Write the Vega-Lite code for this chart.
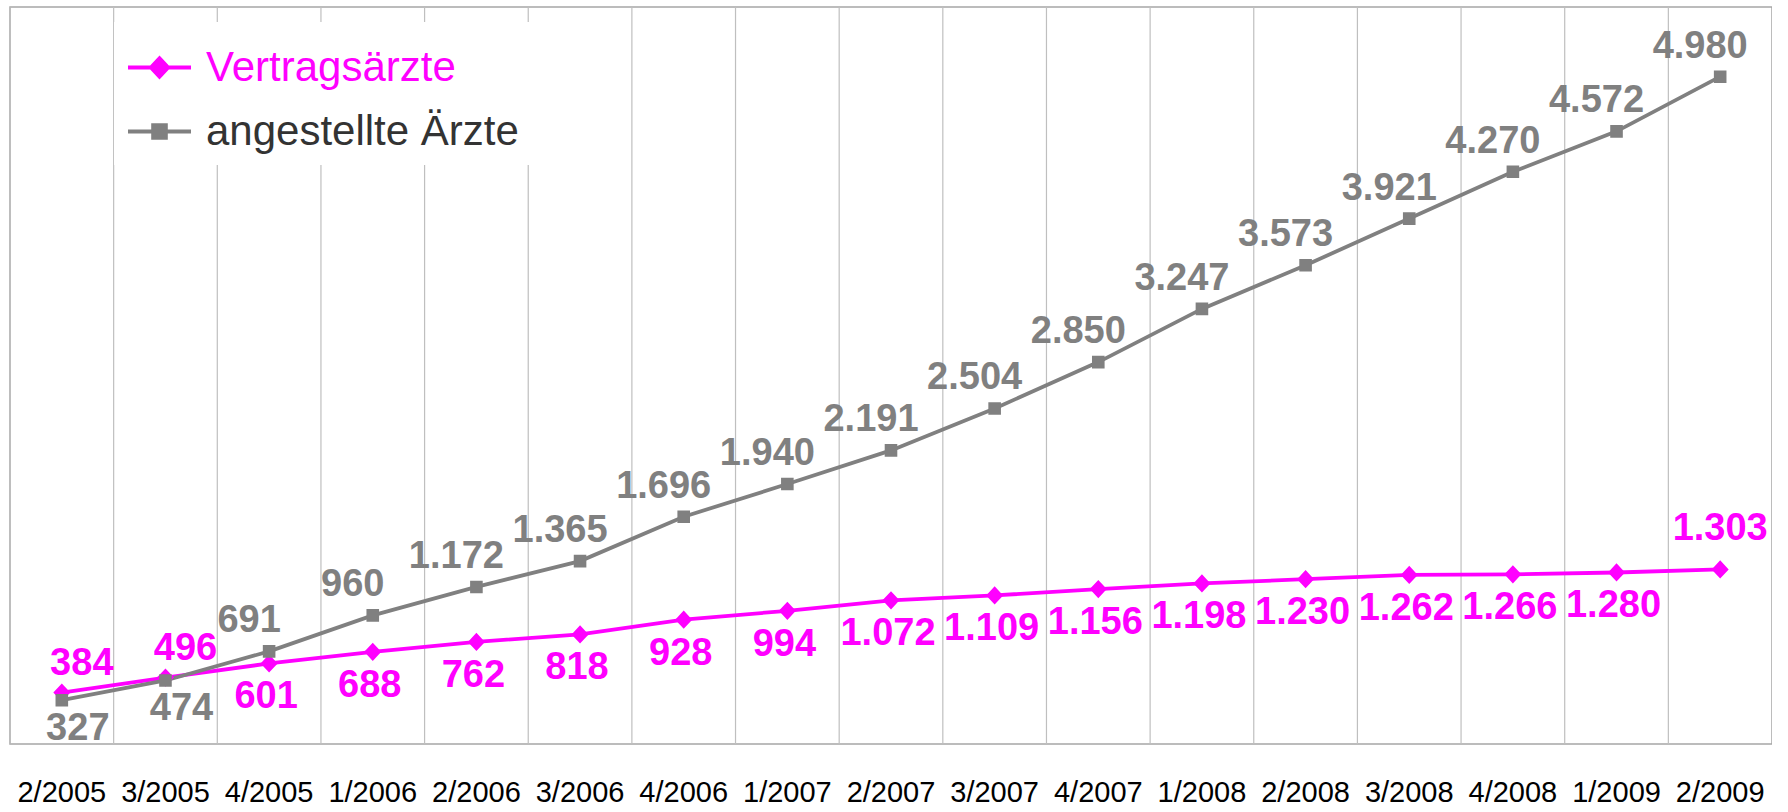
{
  "$schema": "https://vega.github.io/schema/vega-lite/v6.json",
  "width": 1762,
  "height": 737,
  "padding": {"left": 9, "top": 6, "right": 0, "bottom": 0},
  "background": "white",
  "config": {
    "view": {"stroke": "#A6A6A6", "strokeWidth": 1.5},
    "locale": {"number": {"decimal": ",", "thousands": ".", "grouping": [3], "currency": ["", " €"]}}
  },
  "data": {
    "values": [
      {"q": "2/2005", "series": "Vertragsärzte", "value": 384},
      {"q": "3/2005", "series": "Vertragsärzte", "value": 496},
      {"q": "4/2005", "series": "Vertragsärzte", "value": 601},
      {"q": "1/2006", "series": "Vertragsärzte", "value": 688},
      {"q": "2/2006", "series": "Vertragsärzte", "value": 762},
      {"q": "3/2006", "series": "Vertragsärzte", "value": 818},
      {"q": "4/2006", "series": "Vertragsärzte", "value": 928},
      {"q": "1/2007", "series": "Vertragsärzte", "value": 994},
      {"q": "2/2007", "series": "Vertragsärzte", "value": 1072},
      {"q": "3/2007", "series": "Vertragsärzte", "value": 1109},
      {"q": "4/2007", "series": "Vertragsärzte", "value": 1156},
      {"q": "1/2008", "series": "Vertragsärzte", "value": 1198},
      {"q": "2/2008", "series": "Vertragsärzte", "value": 1230},
      {"q": "3/2008", "series": "Vertragsärzte", "value": 1262},
      {"q": "4/2008", "series": "Vertragsärzte", "value": 1266},
      {"q": "1/2009", "series": "Vertragsärzte", "value": 1280},
      {"q": "2/2009", "series": "Vertragsärzte", "value": 1303},
      {"q": "2/2005", "series": "angestellte Ärzte", "value": 327},
      {"q": "3/2005", "series": "angestellte Ärzte", "value": 474},
      {"q": "4/2005", "series": "angestellte Ärzte", "value": 691},
      {"q": "1/2006", "series": "angestellte Ärzte", "value": 960},
      {"q": "2/2006", "series": "angestellte Ärzte", "value": 1172},
      {"q": "3/2006", "series": "angestellte Ärzte", "value": 1365},
      {"q": "4/2006", "series": "angestellte Ärzte", "value": 1696},
      {"q": "1/2007", "series": "angestellte Ärzte", "value": 1940},
      {"q": "2/2007", "series": "angestellte Ärzte", "value": 2191},
      {"q": "3/2007", "series": "angestellte Ärzte", "value": 2504},
      {"q": "4/2007", "series": "angestellte Ärzte", "value": 2850},
      {"q": "1/2008", "series": "angestellte Ärzte", "value": 3247},
      {"q": "2/2008", "series": "angestellte Ärzte", "value": 3573},
      {"q": "3/2008", "series": "angestellte Ärzte", "value": 3921},
      {"q": "4/2008", "series": "angestellte Ärzte", "value": 4270},
      {"q": "1/2009", "series": "angestellte Ärzte", "value": 4572},
      {"q": "2/2009", "series": "angestellte Ärzte", "value": 4980}
    ]
  },
  "encoding": {
    "x": {
      "field": "q", "type": "ordinal", "sort": null, "title": null,
      "scale": {"type": "band", "paddingInner": 0, "paddingOuter": 0},
      "axis": {"labelAngle": 0, "ticks": false, "domain": false, "grid": false,
               "labelFont": "Liberation Sans, Arial, sans-serif",
               "labelFontSize": 29, "labelColor": "#000000", "labelPadding": 34}
    },
    "y": {"field": "value", "type": "quantitative", "scale": {"domain": [0, 5500], "nice": false}, "axis": null}
  },
  "layer": [
    {
      "transform": [{"filter": {"field": "series", "equal": "Vertragsärzte"}}],
      "mark": {"type": "rule", "color": "#BFBFBF", "strokeWidth": 1.2},
      "encoding": {
        "x": {"field": "q", "type": "ordinal", "sort": null, "bandPosition": 0,
              "scale": {"type": "band", "paddingInner": 0, "paddingOuter": 0}},
        "y": null
      }
    },
    {
      "mark": {"type": "line", "strokeWidth": 3.8},
      "encoding": {
        "color": {"field": "series", "type": "nominal",
                  "scale": {"domain": ["Vertragsärzte", "angestellte Ärzte"], "range": ["#FF00FF", "#808080"]}}
      }
    },
    {
      "mark": {"type": "point", "filled": true, "opacity": 1, "size": 3969, "strokeWidth": 0},
      "encoding": {
        "color": {"field": "series", "type": "nominal",
                  "scale": {"domain": ["Vertragsärzte", "angestellte Ärzte"], "range": ["#FF00FF", "#808080"]},
                  "legend": {
                    "title": null, "orient": "none", "legendX": 104, "legendY": 15,
                    "fillColor": "white", "padding": 12, "symbolSize": 3969, "rowPadding": 9,
                    "labelFont": "Liberation Sans, Arial, sans-serif",
                    "labelFontSize": 42, "labelOffset": 13, "labelLimit": 600,
                    "symbolStrokeWidth": 4,
                    "labelColor": {"expr": "datum.value === 'Vertragsärzte' ? '#FF00FF' : '#333333'"},
                    "encode": {
                      "symbols": {"update": {"fill": {"signal": "scale('color', datum.value)"}, "stroke": {"signal": "scale('color', datum.value)"}, "strokeWidth": {"value": 4}, "opacity": {"value": 1}}}
                    }
                  }},
        "shape": {"field": "series", "type": "nominal",
                  "scale": {"domain": ["Vertragsärzte", "angestellte Ärzte"],
                            "range": ["M-1,0L1,0M0,-0.29L0.27,0L0,0.29L-0.27,0Z", "M-1,0L1,0M-0.2,-0.2L0.2,-0.2L0.2,0.2L-0.2,0.2Z"]},
                  "legend": {
                    "title": null, "orient": "none", "legendX": 104, "legendY": 15,
                    "fillColor": "white", "padding": 12, "symbolSize": 3969, "rowPadding": 9,
                    "labelFont": "Liberation Sans, Arial, sans-serif",
                    "labelFontSize": 42, "labelOffset": 13, "labelLimit": 600,
                    "symbolStrokeWidth": 4,
                    "labelColor": {"expr": "datum.value === 'Vertragsärzte' ? '#FF00FF' : '#333333'"},
                    "encode": {
                      "symbols": {"update": {"fill": {"signal": "scale('color', datum.value)"}, "stroke": {"signal": "scale('color', datum.value)"}, "strokeWidth": {"value": 4}, "opacity": {"value": 1}}}
                    }
                  }}
      }
    },
    {
      "transform": [{"filter": {"and": [{"field": "series", "equal": "Vertragsärzte"}, {"field": "q", "oneOf": ["2/2005", "3/2005"]}]}}],
      "mark": {"type": "text", "font": "Liberation Sans, Arial, sans-serif", "fontWeight": "bold", "fontSize": 38, "baseline": "middle", "dx": 20, "dy": -29, "color": "#FF00FF"},
      "encoding": {"text": {"field": "value", "type": "quantitative", "format": ","}}
    },
    {
      "transform": [{"filter": {"and": [{"field": "series", "equal": "Vertragsärzte"}, {"field": "q", "equal": "2/2009"}]}}],
      "mark": {"type": "text", "font": "Liberation Sans, Arial, sans-serif", "fontWeight": "bold", "fontSize": 38, "baseline": "middle", "dx": 0, "dy": -40, "color": "#FF00FF"},
      "encoding": {"text": {"field": "value", "type": "quantitative", "format": ","}}
    },
    {
      "transform": [{"filter": {"and": [{"field": "series", "equal": "Vertragsärzte"}, {"not": {"field": "q", "oneOf": ["2/2005", "3/2005", "2/2009"]}}]}}],
      "mark": {"type": "text", "font": "Liberation Sans, Arial, sans-serif", "fontWeight": "bold", "fontSize": 38, "baseline": "middle", "dx": -3, "dy": 34, "color": "#FF00FF"},
      "encoding": {"text": {"field": "value", "type": "quantitative", "format": ","}}
    },
    {
      "transform": [{"filter": {"and": [{"field": "series", "equal": "angestellte Ärzte"}, {"field": "q", "oneOf": ["2/2005", "3/2005"]}]}}],
      "mark": {"type": "text", "font": "Liberation Sans, Arial, sans-serif", "fontWeight": "bold", "fontSize": 38, "baseline": "middle", "dx": 16, "dy": 29, "color": "#808080"},
      "encoding": {"text": {"field": "value", "type": "quantitative", "format": ","}}
    },
    {
      "transform": [{"filter": {"and": [{"field": "series", "equal": "angestellte Ärzte"}, {"not": {"field": "q", "oneOf": ["2/2005", "3/2005"]}}]}}],
      "mark": {"type": "text", "font": "Liberation Sans, Arial, sans-serif", "fontWeight": "bold", "fontSize": 38, "baseline": "middle", "dx": -20, "dy": -30, "color": "#808080"},
      "encoding": {"text": {"field": "value", "type": "quantitative", "format": ","}}
    }
  ]
}
